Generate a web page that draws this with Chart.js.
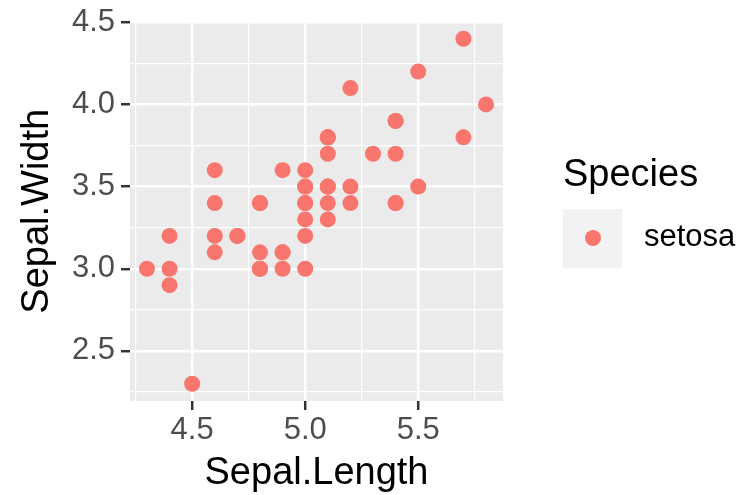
<!DOCTYPE html>
<html>
<head>
<meta charset="utf-8">
<script src="https://cdn.jsdelivr.net/npm/chart.js@4"></script>
<style>
  body { margin: 0; background: #fff; font-family: "Liberation Sans", Arial, sans-serif; }
  #wrap { position: relative; width: 740px; height: 495px; }
  #legend-title { position: absolute; left: 563px; top: 154px; font-size: 38px; line-height: 38px; color: #000; }
  #legend-key { position: absolute; left: 563px; top: 209px; width: 59px; height: 59px; background: #F2F2F2; }
  #legend-dot { position: absolute; left: 22px; top: 21px; width: 16px; height: 16px; border-radius: 50%; background: #F8766D; }
  #legend-label { position: absolute; left: 644px; top: 220px; font-size: 31px; line-height: 31px; color: #000; }
</style>
</head>
<body>
<div id="wrap">
  <canvas id="SepalChart" width="740" height="495"></canvas>
  <div id="legend-title">Species</div>
  <div id="legend-key"><div id="legend-dot"></div></div>
  <div id="legend-label">setosa</div>
</div>
<script>
// iris, species setosa
var sepalLength = [5.1,4.9,4.7,4.6,5.0,5.4,4.6,5.0,4.4,4.9,5.4,4.8,4.8,4.3,5.8,5.7,5.4,5.1,5.7,5.1,
                   5.4,5.1,4.6,5.1,4.8,5.0,5.0,5.2,5.2,4.7,4.8,5.4,5.2,5.5,4.9,5.0,5.5,4.9,4.4,5.1,
                   5.0,4.5,4.4,5.0,5.1,4.8,5.1,4.6,5.3,5.0];
var sepalWidth  = [3.5,3.0,3.2,3.1,3.6,3.9,3.4,3.4,2.9,3.1,3.7,3.4,3.0,3.0,4.0,4.4,3.9,3.5,3.8,3.8,
                   3.4,3.7,3.6,3.3,3.4,3.0,3.4,3.5,3.4,3.2,3.1,3.4,4.1,4.2,3.1,3.2,3.5,3.6,3.0,3.4,
                   3.5,2.3,3.2,3.5,3.8,3.0,3.8,3.2,3.7,3.3];

var xGrid = [4.25,4.5,4.75,5.0,5.25,5.5,5.75];
var xLabels = [4.5,5.0,5.5];
var yGrid = [2.25,2.5,2.75,3.0,3.25,3.5,3.75,4.0,4.25,4.5];
var yLabels = [2.5,3.0,3.5,4.0,4.5];

var points = [];
for (var i = 0; i < sepalLength.length; i++) {
    points.push({x: sepalLength[i], y: sepalWidth[i]});
}

Chart.defaults.font.family = '"Liberation Sans", Arial, sans-serif';

// grey panel behind the points
const panelBg = {
    id: 'panelBg',
    beforeDraw: function(chart){
        const a = chart.chartArea;
        chart.ctx.save();
        chart.ctx.fillStyle = '#EBEBEB';
        chart.ctx.fillRect(a.left, a.top, a.right - a.left, a.bottom - a.top);
        chart.ctx.restore();
    }
};

function axis(gridVals, labelVals, title, isX){
    return {
        type: 'linear',
        afterBuildTicks: function(s){ s.ticks = gridVals.map(function(v){ return {value: v}; }); },
        afterFit: function(s){ if (isX) { s.height = 94; } else { s.width = 130; } },
        ticks: {
            autoSkip: false,
            maxRotation: 0,
            padding: isX ? 5 : 6,
            color: '#4D4D4D',
            font: {size: 31, lineHeight: 1},
            callback: function(v){ return labelVals.includes(v) ? v.toFixed(1) : ''; }
        },
        grid: {
            color: '#FFFFFF',
            lineWidth: function(c){ return labelVals.includes(c.tick.value) ? 2.4 : 1.2; },
            tickColor: function(c){ return labelVals.includes(c.tick.value) ? '#333333' : 'rgba(0,0,0,0)'; },
            tickLength: 9,
            tickWidth: 2.5
        },
        border: {display: false},
        title: {
            display: true,
            text: title,
            color: '#000000',
            font: {size: 38, lineHeight: 1},
            padding: isX ? {top: 0, bottom: 2} : {top: 19, bottom: 0}
        }
    };
}

var xAxis = axis(xGrid, xLabels, 'Sepal.Length', true);
xAxis.min = 4.225; xAxis.max = 5.875;
var yAxis = axis(yGrid, yLabels, 'Sepal.Width', false);
yAxis.min = 2.195; yAxis.max = 4.505;

const ctx = document.getElementById('SepalChart').getContext('2d');
new Chart(ctx, {
    type: 'scatter',
    data: {
        datasets: [{
            label: 'setosa',
            data: points,
            backgroundColor: '#F8766D',
            borderWidth: 0,
            pointRadius: 8,
            pointHoverRadius: 8
        }]
    },
    options: {
        responsive: false,
        animation: false,
        layout: {padding: {left: 0, right: 237, top: 19, bottom: 0}},
        plugins: {legend: {display: false}, tooltip: {enabled: false}},
        scales: {x: xAxis, y: yAxis}
    },
    plugins: [panelBg]
});
</script>
</body>
</html>
